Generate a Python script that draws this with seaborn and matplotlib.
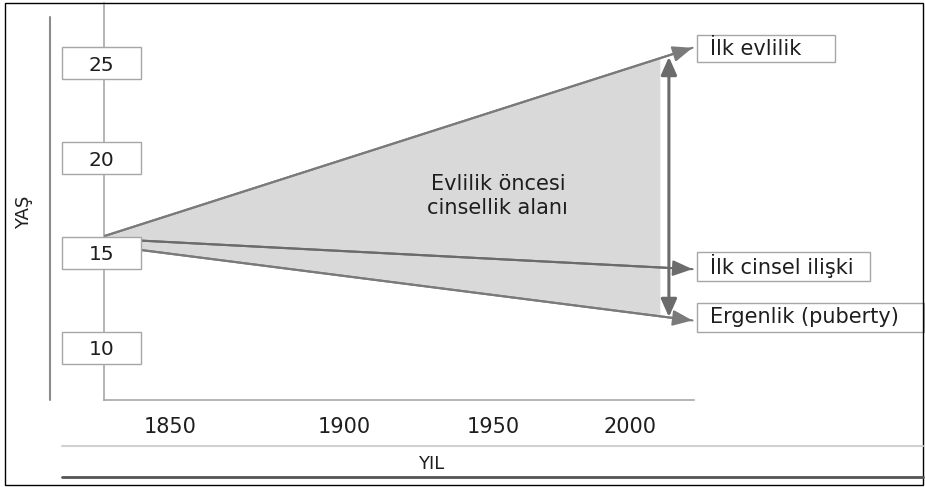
import numpy as np
import pandas as pd
import matplotlib
matplotlib.use("Agg")
import matplotlib.pyplot as plt
import matplotlib.transforms as mtransforms
from matplotlib.patches import Rectangle
from matplotlib.lines import Line2D
import seaborn as sns

# --- schematic data: age (YAŞ) against time (YIL) ---
year_ticks = [1850, 1900, 1950, 2000]
age_ticks = [10, 15, 20, 25]

start_year = 1831.3
end_year = 2022.8
fill_end_year = 2010.9
gap_year = 2014.2

series_labels = ["İlk evlilik", "İlk cinsel ilişki", "Ergenlik (puberty)"]
marriage_age = [15.9, 25.8]
first_sex_age = [15.75, 14.15]
puberty_age = [15.4, 11.45]

fill_top_age = [15.9, 25.25]
fill_bottom_age = [15.4, 11.69]
gap_age = [11.63, 25.32]
label_age = [25.76, 14.29, 11.61]
area_label = "Evlilik öncesi\ncinsellik alanı"
area_pos = (1951.8, 18.0)

# the year labels are not evenly spaced in the schematic -> piecewise scale
year_px = [170, 344, 493, 630]


def _fwd(x):
    x = np.asarray(x, dtype=float)
    y = np.interp(x, year_ticks, year_px)
    y = np.where(x < 1850, 170 + (x - 1850) * 3.48, y)
    y = np.where(x > 2000, 630 + (x - 2000) * 2.74, y)
    return y


def _inv(p):
    p = np.asarray(p, dtype=float)
    x = np.interp(p, year_px, year_ticks)
    x = np.where(p < 170, 1850 + (p - 170) / 3.48, x)
    x = np.where(p > 630, 2000 + (p - 630) / 2.74, x)
    return x


sns.set_theme(style="white")
plt.rcParams["font.family"] = ["DejaVu Sans"]

TXT = "#1e1e1e"
LINE = "#7a7a7a"
ARROW = "#6b6b6b"
BOXEDGE = "#a6a6a6"

W, H = 925, 487
fig = plt.figure(figsize=(W / 100, H / 100), dpi=100)
ax = fig.add_axes([104 / W, 1 - 400 / H, 590 / W, 397 / H])
ax.set_xscale("function", functions=(_fwd, _inv))

rows = []
for lab, ages in zip(series_labels, [marriage_age, first_sex_age, puberty_age]):
    rows.append({"series": lab, "year": start_year, "age": ages[0]})
    rows.append({"series": lab, "year": end_year, "age": ages[1]})
df = pd.DataFrame(rows)

ax.fill_between([start_year, fill_end_year], fill_bottom_age, fill_top_age,
                color="#d9d9d9", lw=0, zorder=1)
sns.lineplot(data=df, x="year", y="age", hue="series", palette=[LINE, ARROW, LINE],
             estimator=None, sort=False, legend=False, lw=1.5, ax=ax, zorder=2)

head = "-|>,head_length=1.0,head_width=0.4"
for ages, c in zip([marriage_age, first_sex_age, puberty_age], [LINE, ARROW, LINE]):
    ax.annotate("", xy=(end_year, ages[1]), xytext=(start_year, ages[0]),
                arrowprops=dict(arrowstyle=head, mutation_scale=12, color=c, lw=1.5,
                                shrinkA=0, shrinkB=0),
                annotation_clip=False, zorder=3)

ax.annotate("", xy=(gap_year, gap_age[1]), xytext=(gap_year, gap_age[0]),
            arrowprops=dict(arrowstyle="<|-|>,head_length=0.9,head_width=0.4",
                            mutation_scale=12, color=ARROW, lw=2.2, shrinkA=0, shrinkB=0),
            annotation_clip=False, zorder=3)

ax.text(area_pos[0], area_pos[1], area_label, ha="center", va="center",
        multialignment="center", fontsize=15, color=TXT, linespacing=1.25)

ax.set_xlim(_inv(104), _inv(694))
ax.set_ylim(7.263, 28.158)

# axes, ticks
sns.despine(ax=ax)
for s in ["left", "bottom"]:
    ax.spines[s].set_color("#a0a0a0")
    ax.spines[s].set_linewidth(1.1)

ax.set_yticks(age_ticks)
ax.set_yticklabels([str(a) for a in age_ticks])
ax.tick_params(axis="y", length=0, pad=1.8, labelsize=14.5, labelcolor=TXT)
plt.setp(ax.get_yticklabels(), ha="center")
ax.yaxis.set_zorder(5)

ax.set_xticks(year_ticks)
ax.set_xticklabels([str(y) for y in year_ticks])
ax.tick_params(axis="x", length=0, pad=12, labelsize=15, labelcolor=TXT)

ax.set_ylabel("YAŞ", fontsize=13, color=TXT)
ax.yaxis.set_label_coords(-0.120, 0.4736)
ax.set_xlabel("YIL", fontsize=13, color=TXT)
ax.xaxis.set_label_coords(0.554, -0.139)

# boxes round the age labels
trans = mtransforms.blended_transform_factory(ax.transAxes, ax.transData)
for a in age_ticks:
    ax.add_patch(Rectangle((-0.0712, a - 0.842), 0.1339, 1.684, transform=trans,
                           fc="white", ec=BOXEDGE, lw=1, clip_on=False, zorder=4))

# boxed labels at the arrow ends
box_w = [0.2339, 0.2932, 0.3847]
box_h = [1.42, 1.53, 1.53]
for lab, a, w, h in zip(series_labels, label_age, box_w, box_h):
    ax.add_patch(Rectangle((1.0051, a - h / 2), w, h, transform=trans,
                           fc="white", ec=BOXEDGE, lw=1, clip_on=False, zorder=4))
    ax.text(1.027, a, lab, transform=trans, ha="left", va="center",
            fontsize=15, color=TXT, zorder=6, clip_on=False)

# frame lines of the original figure
fig.add_artist(Line2D([50 / W, 50 / W], [1 - 17 / H, 1 - 400 / H], color="#8c8c8c", lw=1.5))
fig.add_artist(Line2D([62 / W, 923 / W], [1 - 446 / H, 1 - 446 / H], color="#d0d0d0", lw=1.5))
fig.add_artist(Line2D([62 / W, 923 / W], [1 - 477 / H, 1 - 477 / H], color="#555555", lw=2))
fig.add_artist(Rectangle((5 / W, 1 - 485 / H), 918 / W, 482 / H, fill=False,
                         ec="black", lw=1, transform=fig.transFigure))

fig.savefig("out.png", dpi=100)
plt.close(fig)
